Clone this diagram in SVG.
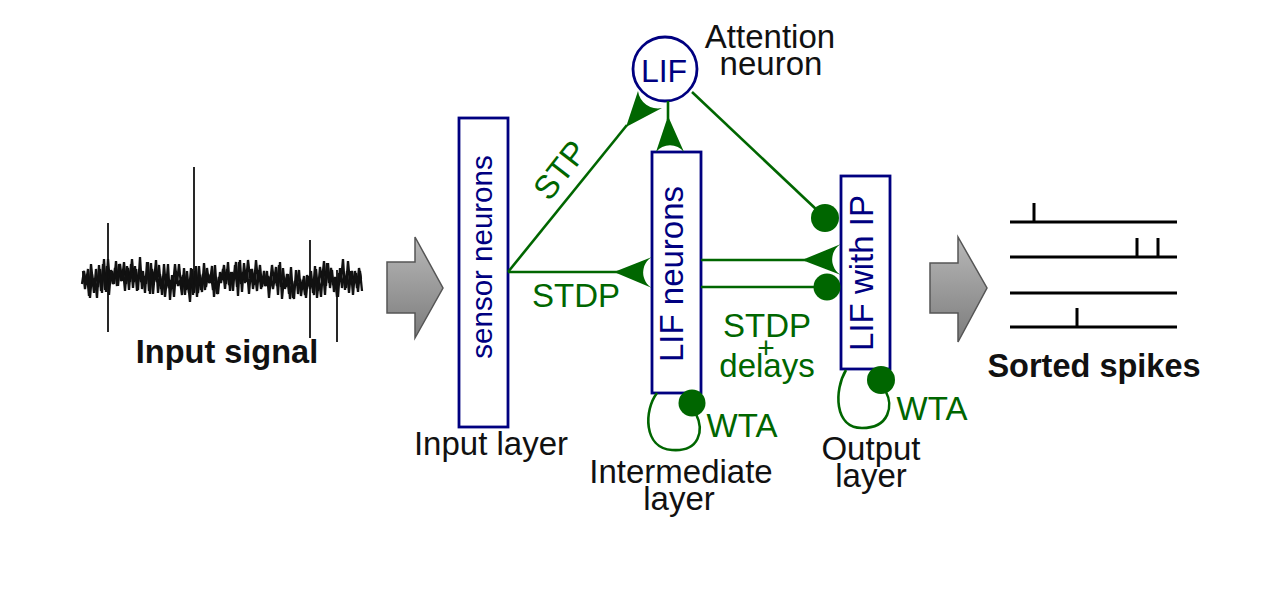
<svg xmlns="http://www.w3.org/2000/svg" width="1287" height="589" viewBox="0 0 1287 589">
<defs>
<linearGradient id="gr" x1="0" y1="0" x2="0" y2="1">
<stop offset="0" stop-color="#b8b8b8"/>
<stop offset="1" stop-color="#7c7c7c"/>
</linearGradient>
<style>
.t{font-family:"Liberation Sans",Arial,sans-serif;font-size:33px;fill:#111}
.b{font-weight:bold;font-size:32.5px}
.n{fill:#000080}
.g{fill:#006600}
.box{fill:#fff;stroke:#000080;stroke-width:2.8}
.ln{fill:none;stroke:#006600;stroke-width:2.6}
.hd{fill:#006600;stroke:none}
.arr{fill:url(#gr);stroke:#555;stroke-width:1.5}
.sp{stroke:#000;stroke-width:3;fill:none}
.nz{fill:none;stroke:#111;stroke-width:2.3;stroke-linejoin:bevel}
</style>
</defs>
<rect width="1287" height="589" fill="#fff"/>

<g id="input-signal">
<path class="nz" d="M82 284L84 271 86 284 88 269 90 298 92 274 94 293 96 269 98 287 100 269 102 293 104 259 106 292 108 259 110 284 112 271 114 284 116 261 118 286 120 264 122 281 124 262 126 284 128 268 130 282 132 259 134 282 136 269 138 290 140 257 142 289 144 276 146 284 148 262 150 294 152 269 154 282 156 260 158 293 160 274 162 295 164 264 166 289 168 264 170 300 172 275 174 297 176 271 178 286 180 280 182 295 184 268 186 290 188 282 190 302 192 269 194 293 196 266 198 293 200 275 202 292 204 263 206 287 208 274 210 283 212 266 214 297 216 277 218 294 220 272 222 280 224 265 226 284 228 262 230 291 232 272 234 280 236 262 238 296 240 260 242 292 244 263 246 282 248 260 250 278 252 269 254 285 256 260 258 282 260 265 262 287 264 271 266 286 268 276 270 284 272 265 274 282 276 267 278 295 280 262 282 299 284 277 286 287 288 274 290 299 292 281 294 299 296 270 298 294 300 279 302 289 304 276 306 298 308 276 310 289 312 280 314 295 316 269 318 291 320 267 322 281 324 261 326 286 328 263 330 288 332 270 334 292 336 277 338 297 340 268 342 288 344 275 346 288 348 261 350 283 352 271 354 284 356 273 358 292 360 271 362 291"/>
<path class="nz" d="M83 271L85 289 87 274 89 296 91 264 93 284 95 278 97 298 99 265 101 291 103 264 105 290 107 266 109 295 111 270 113 284 115 268 117 286 119 264 121 281 123 269 125 291 127 266 129 290 131 264 133 288 135 266 137 291 139 269 141 282 143 271 145 293 147 262 149 291 151 263 153 294 155 271 157 282 159 265 161 289 163 276 165 297 167 278 169 288 171 280 173 286 175 264 177 284 179 264 181 286 183 275 185 295 187 271 189 293 191 268 193 295 195 271 197 297 199 266 201 290 203 274 205 290 207 268 209 283 211 274 213 290 215 265 217 294 219 277 221 283 223 269 225 289 227 269 229 285 231 272 233 291 235 265 237 287 239 262 241 284 243 272 245 283 247 269 249 294 251 269 253 289 255 274 257 291 259 270 261 289 263 278 265 286 267 271 269 298 271 276 273 289 275 276 277 286 279 265 281 287 283 268 285 289 287 274 289 294 291 267 293 298 295 281 297 285 299 270 301 296 303 280 305 295 307 275 309 286 311 271 313 293 315 266 317 298 319 278 321 297 323 270 325 295 327 263 329 283 331 268 333 285 335 277 337 297 339 273 341 281 343 259 345 290 347 271 349 293 351 271 353 295 355 271 357 288 359 268 361 279"/>
<path fill="none" stroke="#111" stroke-width="1.8" d="M108 223V332M194 167V285M310 240V338M337 270V342"/>
<text class="t b" x="227" y="363" text-anchor="middle">Input signal</text>
</g>

<g id="arrow-1">
<path class="arr" d="M387 262H415V237L443 288 415 338V313H387Z"/>
</g>

<g id="sensor-neurons">
<rect class="box" x="459" y="118" width="49" height="309"/>
<text class="t n" transform="translate(492,257) rotate(-90)" text-anchor="middle" style="font-size:29.5px">sensor neurons</text>
<text class="t" x="491" y="455" text-anchor="middle">Input layer</text>
</g>

<g id="attention-neuron">
<circle cx="665" cy="69" r="32" fill="#fff" stroke="#000080" stroke-width="2.8"/>
<text class="t n" x="664" y="82" text-anchor="middle" style="font-size:32px">LIF</text>
<text class="t" x="770" y="48" text-anchor="middle">Attention<tspan x="771" dy="27">neuron</tspan></text>
</g>

<g id="lif-neurons">
<rect class="box" x="652" y="152" width="49" height="241"/>
<text class="t n" transform="translate(683,274) rotate(-90)" text-anchor="middle">LIF neurons</text>
<text class="t" x="681" y="483" text-anchor="middle">Intermediate<tspan x="679" dy="27">layer</tspan></text>
</g>

<g id="lif-with-ip">
<rect class="box" x="841" y="176" width="49" height="193"/>
<text class="t n" transform="translate(873,273) rotate(-90)" text-anchor="middle">LIF with IP</text>
<text class="t" x="871" y="460" text-anchor="middle">Output<tspan x="871" dy="27">layer</tspan></text>
</g>

<g id="connectors">
<path class="ln" d="M508 272L627 125"/>
<path class="hd" d="M626 127L638 91A20 20 0 0 0 662 108Z"/>
<path class="ln" d="M668 101V120"/>
<path class="hd" d="M668 116L656 152A18 18 0 0 1 684 152Z"/>
<path class="ln" d="M692 92L818 211"/>
<circle class="hd" cx="825" cy="218" r="14"/>
<path class="ln" d="M508 272H620"/>
<path class="hd" d="M614 272L652 257A18 18 0 0 0 652 288Z"/>
<path class="ln" d="M701 260H806"/>
<path class="hd" d="M802 260L841 244A18 18 0 0 0 841 275Z"/>
<path class="ln" d="M701 287H820"/>
<circle class="hd" cx="827" cy="287" r="13.5"/>
<path class="ln" d="M657 393C644 410 643 448 672 450C700 452 704 430 696 414"/>
<circle class="hd" cx="692" cy="403" r="13.5"/>
<path class="ln" d="M846 370C834 390 834 428 862 428C890 428 893 405 886 392"/>
<circle class="hd" cx="881" cy="380" r="14"/>
<text class="t g" transform="translate(569,177) rotate(-52)" text-anchor="middle">STP</text>
<text class="t g" x="576" y="307" text-anchor="middle">STDP</text>
<text class="t g" x="767" y="337" text-anchor="middle">STDP<tspan x="766" dy="21" style="font-size:30px">+</tspan><tspan x="767" dy="19">delays</tspan></text>
<text class="t g" x="742" y="437" text-anchor="middle">WTA</text>
<text class="t g" x="932" y="420" text-anchor="middle">WTA</text>
</g>

<g id="arrow-2">
<path class="arr" d="M930 263H958V237L987 288 958 342V313H930Z"/>
</g>

<g id="sorted-spikes">
<path class="sp" d="M1010 222H1177M1010 257H1177M1010 293H1177M1010 327H1177M1034 203V222M1137 238V257M1158 238V257M1077 308V327"/>
<text class="t b" x="1094" y="377" text-anchor="middle">Sorted spikes</text>
</g>
</svg>
